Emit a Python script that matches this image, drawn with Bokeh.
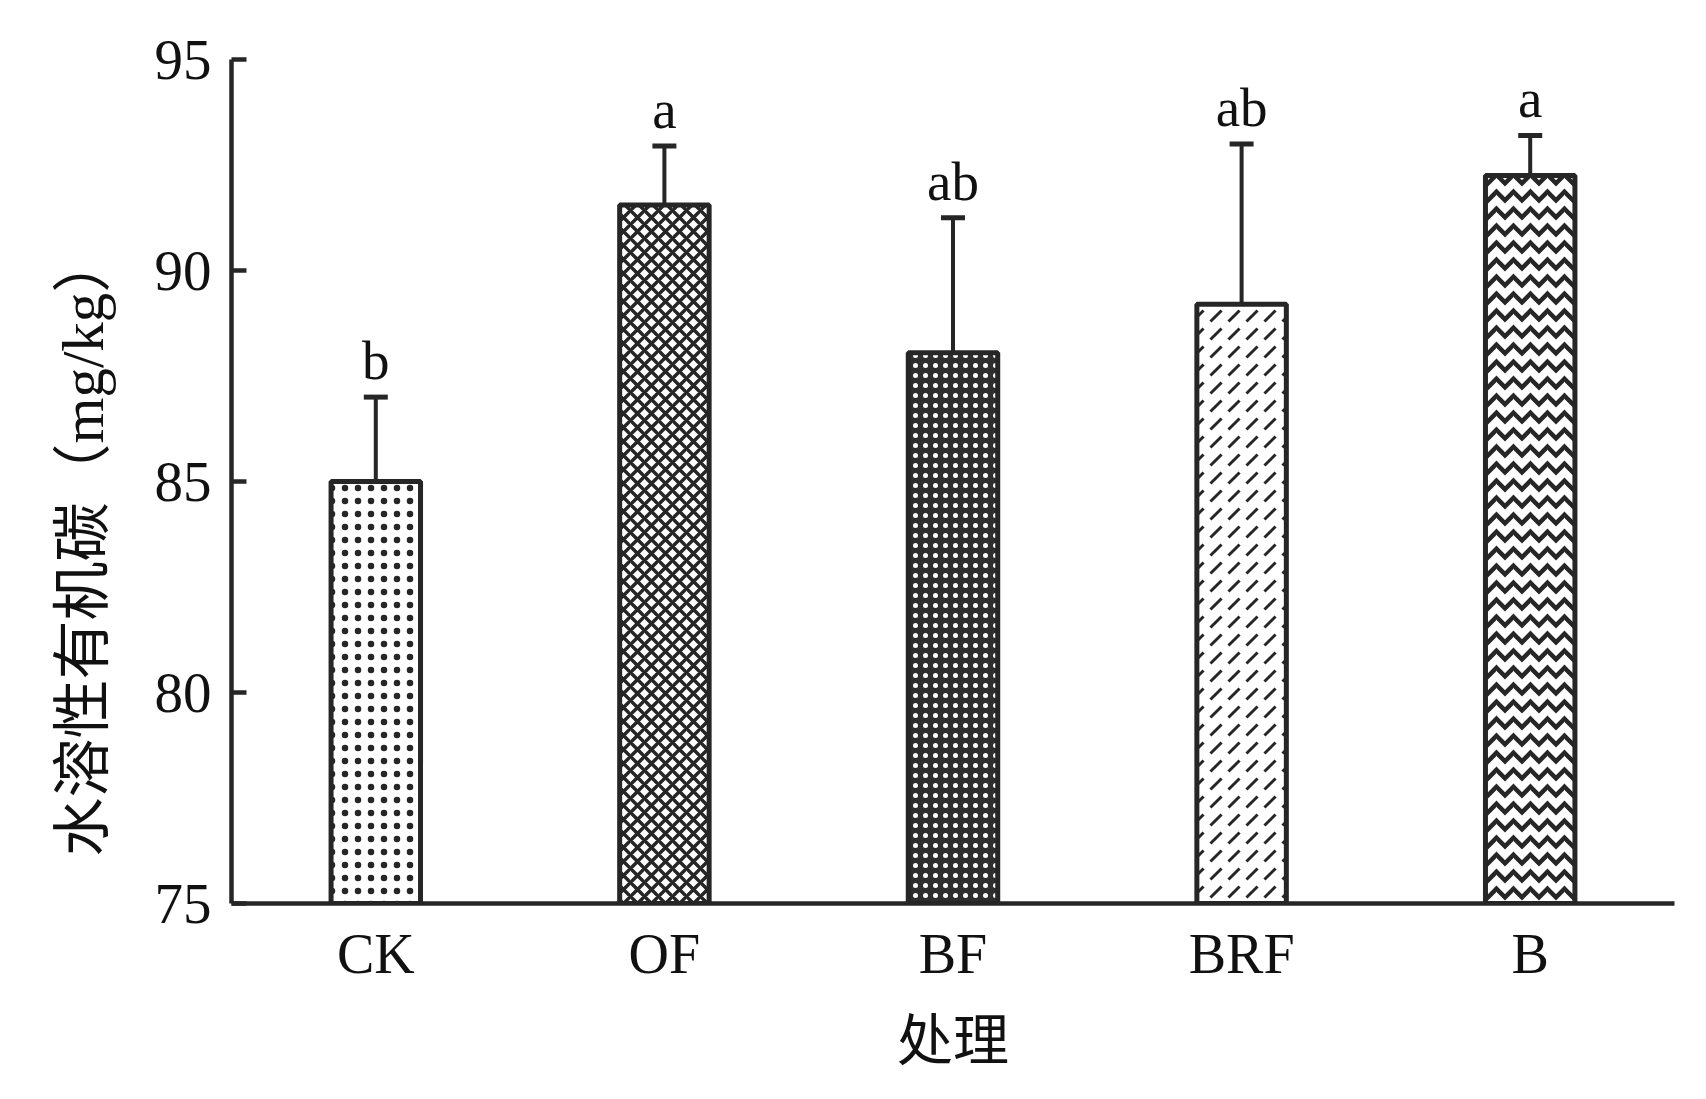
from bokeh.plotting import figure
from bokeh.models import (ColumnDataSource, FactorRange, Range1d, FixedTicker,
                          Whisker, TeeHead, Title)
from bokeh.core.properties import value
from bokeh.embed import file_html
from bokeh.resources import INLINE

# ---- data ----
categories = ["CK", "OF", "BF", "BRF", "B"]
means = [85.0, 91.55, 88.05, 89.2, 92.25]
errors = [2.0, 1.4, 3.2, 3.8, 0.95]
letters = ["b", "a", "ab", "ab", "a"]
y_ticks = [75, 80, 85, 90, 95]
y_title = "水溶性有机碳（mg/kg）"
x_title = "处理"

# ---- styles ----
INK = "#262626"
SERIF = "Liberation Serif"
MIXED = "Liberation Serif, Noto Sans CJK SC"
hatch_patterns = ["dot", "diagonal_cross", "dot", "right_diagonal_dash", "horizontal_wave"]
fill_colors = ["white", "white", "#2e2e2e", "white", "white"]
hatch_colors = [INK, INK, "white", INK, INK]
hatch_scales = [13, 14, 10, 18, 17]
hatch_weights = [4, 3.5, 4, 3, 4.5]
letter_gap = 0.42  # gap between cap and letter baseline, in data units

upper = [m + e for m, e in zip(means, errors)]
lower = [m - e for m, e in zip(means, errors)]
letter_y = [u + letter_gap for u in upper]

src = ColumnDataSource(dict(
    cat=categories, mean=means, upper=upper, lower=lower, letter=letters, ly=letter_y,
    hp=hatch_patterns, fc=fill_colors, hc=hatch_colors, hs=hatch_scales, hw=hatch_weights,
))

p = figure(
    width=1690, height=1083,
    x_range=FactorRange(factors=categories, range_padding=0),
    y_range=Range1d(75, 95),
    output_backend="svg", toolbar_location=None,
    min_border_left=231, min_border_right=16, min_border_top=59, min_border_bottom=180,
)
p.outline_line_color = None
p.xgrid.visible = False
p.ygrid.visible = False
p.background_fill_color = "white"
p.border_fill_color = "white"

p.vbar(x="cat", top="mean", bottom=75, width=0.31, source=src,
       fill_color="fc", line_color=INK, line_width=5,
       hatch_pattern="hp", hatch_color="hc", hatch_scale="hs", hatch_weight="hw")

w = Whisker(source=src, base="cat", upper="upper", lower="lower",
            line_color=INK, line_width=4,
            upper_head=TeeHead(size=24, line_width=5, line_color=INK),
            lower_head=TeeHead(size=24, line_width=5, line_color=INK))
p.add_layout(w)

p.text(x="cat", y="ly", text="letter", source=src,
       text_align="center", text_baseline="alphabetic", y_offset=-19,
       text_font=value(SERIF), text_font_size="55px", text_color="#111111")

# axes
yax = p.yaxis[0]
yax.ticker = FixedTicker(ticks=y_ticks)
yax.axis_line_width = 4.5
yax.axis_line_color = INK
yax.major_tick_in = 15
yax.major_tick_out = 0
yax.major_tick_line_width = 4.5
yax.major_tick_line_color = INK
yax.minor_tick_line_color = None
yax.major_label_text_font = SERIF
yax.major_label_text_font_size = "57px"
yax.major_label_text_color = "#111111"
yax.major_label_standoff = 20

xax = p.xaxis[0]
xax.axis_line_width = 4.5
xax.axis_line_color = INK
xax.major_tick_line_color = None
xax.minor_tick_line_color = None
xax.major_label_text_font = SERIF
xax.major_label_text_font_size = "56px"
xax.major_label_text_color = "#111111"
xax.major_label_standoff = 13
xax.axis_label = x_title
xax.axis_label_text_font = MIXED
xax.axis_label_text_font_size = "56px"
xax.axis_label_text_font_style = "normal"
xax.axis_label_text_color = "#111111"
xax.axis_label_standoff = 22

ytitle = Title(text=y_title, align="left", offset=47, standoff=71,
               text_font=MIXED, text_font_size="59px", text_font_style="normal",
               text_color="#111111")
p.add_layout(ytitle, "left")

open("out.html", "w").write(file_html(p, INLINE))
